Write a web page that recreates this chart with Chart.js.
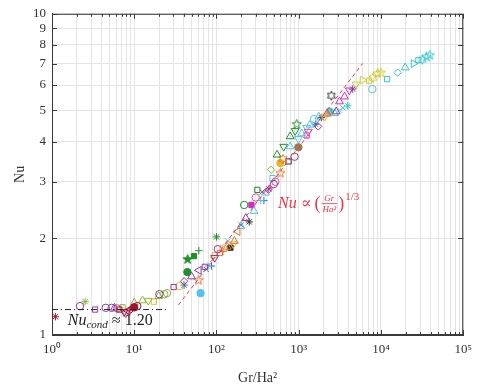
<!DOCTYPE html>
<html>
<head>
<meta charset="utf-8">
<script src="https://cdn.jsdelivr.net/npm/chart.js@4"></script>
<style>
  html, body { margin: 0; padding: 0; background: #fff; }
  #wrap { width: 479px; height: 387px; }
</style>
</head>
<body>
<div id="wrap"><canvas id="nuChart" width="479" height="387"></canvas></div>
<script>
// marker codes: o s ^ v < > d * + x p h  (upper case = filled)
const purpleGr = [2.19, 3.34, 4.5, 5.3, 5.75, 20.2, 30.1, 40.4, 49.7, 61, 72, 95, 104, 227, 360, 433, 497, 890, 1722, 2856, 4530];
const purpleNu = [1.23, 1.20, 1.215, 1.215, 1.215, 1.34, 1.41, 1.47, 1.52, 1.59, 1.63, 1.74, 1.85, 2.31, 2.79, 2.85, 2.95, 3.59, 4.46, 4.96, 5.83];
const purpleMk = ['o','s','o','o','^','o','s','d','^','<','s','v','o','^','x','*','o','o','d','^','*'];

const darkredGr = [1.1, 6.59, 7.55, 8.3, 9.1, 10, 10.9];
const darkredNu = [1.14, 1.20, 1.18, 1.19, 1.20, 1.22, 1.23];
const darkredMk = ['*','s','v','<','d','O','o'];

const pinkGr = [6.2, 7.9, 9.5, 300, 430, 520, 1300, 2200];
const pinkNu = [1.21, 1.17, 1.21, 2.68, 2.83, 3.0, 4.3, 4.88];
const pinkMk = ['o','v','^','o','d','o','v','^'];

const lgreenGr = [2.53, 7.2, 10, 12.6, 14.8, 19.8, 23.2, 25, 462];
const lgreenNu = [1.27, 1.22, 1.26, 1.28, 1.28, 1.32, 1.34, 1.35, 3.27];
const lgreenMk = ['*','s','^','^','v','^','o','o','d'];

const dgreenGr = [44.3, 44.6, 53.2, 61, 100, 217, 314, 545, 656, 787, 904, 947];
const dgreenNu = [1.57, 1.72, 1.76, 1.83, 2.02, 2.54, 2.83, 3.64, 3.86, 4.15, 4.32, 4.53];
const dgreenMk = ['O','P','S','+','*','o','s','^','v','^','v','p'];

const orangeGr = [60.5, 90, 110, 120, 135, 165, 181, 598, 640];
const orangeNu = [1.48, 1.72, 1.80, 1.82, 1.88, 1.96, 2.10, 3.19, 3.53];
const orangeMk = ['p','x','s','+','^','^','<','p','h'];

const yellowGr = [17.3, 35.5, 95, 121, 160, 598, 2070, 2300];
const yellowNu = [1.27, 1.42, 1.77, 1.86, 1.92, 3.43, 4.79, 4.9];
const yellowMk = ['s','o','s','o','v','O','v','^'];

const oliveGr = [4960, 5960, 7160, 8010, 9060, 10000];
const oliveNu = [6.03, 6.22, 6.19, 6.32, 6.51, 6.55];
const oliveMk = ['v','>','s','h','p','p'];

const lblueGr = [64, 79, 137, 198, 286, 345, 394, 480, 787, 991, 1087, 1250, 1368, 1528, 1750, 2730, 3130, 7850];
const lblueNu = [1.35, 1.64, 1.96, 2.18, 2.43, 2.62, 2.77, 3.08, 3.86, 4.08, 4.24, 4.42, 4.51, 4.70, 4.78, 4.90, 5.01, 5.83];
const lblueMk = ['O','+','x','^','^','+','^','s','^','v','^','v','^','o','^','^','x','o'];

const blueGr = [40.4, 75, 87, 200, 377, 1598];
const blueNu = [1.43, 1.60, 1.64, 2.2, 2.62, 4.53];
const blueMk = ['*','x','+','x','+','*'];

const tealGr = [2377, 3435, 3940, 11890, 15960, 19700, 24850, 28500, 31800, 35800, 39300];
const tealNu = [4.96, 5.10, 5.17, 6.26, 6.56, 6.80, 7.0, 7.17, 7.2, 7.34, 7.43];
const tealMk = ['O','x','*','s','d','^','>','s','h','p','p'];

const magentaGr = [266, 1248, 3130, 3600, 4120];
const magentaNu = [2.54, 4.18, 5.33, 5.52, 5.78];
const magentaMk = ['S','s','^','^','v'];

const blackGr = [148, 250, 752, 1880, 2490];
const blackNu = [1.87, 2.25, 3.47, 4.75, 5.56];
const blackMk = ['S','*','s','*','h'];

const brownGr = [991];
const brownNu = [3.84];
const brownMk = ['O'];

// reference lines
const condGr = [1, 25];
const condNu = [1.2, 1.2];
const fitGr = [34.5, 5960];
const fitNu = [1.24, 7.0];

const xTickVals = [];
for (let e = 0; e < 5; e++) for (let k = 1; k <= 9; k++) xTickVals.push(k * Math.pow(10, e));
xTickVals.push(1e5);
const yTickVals = [1, 2, 3, 4, 5, 6, 7, 8, 9, 10];
const sup = ['\u2070', '\u00b9', '\u00b2', '\u00b3', '\u2074', '\u2075'];

const R = 3.7;

function starImg(color, filled, n, r) {
    const c = document.createElement('canvas');
    const s = Math.ceil(r * 2 + 3);
    c.width = s; c.height = s;
    const g = c.getContext('2d');
    const inner = n === 5 ? r * 0.42 : r * 0.55;
    g.beginPath();
    for (let i = 0; i < n * 2; i++) {
        const a = -Math.PI / 2 + i * Math.PI / n;
        const rr = i % 2 ? inner : r;
        const px = s / 2 + rr * Math.cos(a), py = s / 2 + rr * Math.sin(a);
        i ? g.lineTo(px, py) : g.moveTo(px, py);
    }
    g.closePath();
    if (filled) { g.fillStyle = color; g.fill(); }
    g.strokeStyle = color; g.lineWidth = 1; g.stroke();
    return c;
}

function styleOf(code, color) {
    const m = code.toLowerCase();
    const filled = code !== m;
    if (m === 'p') return starImg(color, filled, 5, R + 1.2);
    if (m === 'h') return starImg(color, filled, 6, R + 0.8);
    return {o:'circle', s:'rect', '^':'triangle', v:'triangle', '<':'triangle', '>':'triangle',
            d:'rectRot', '*':'star', '+':'cross', x:'crossRot'}[m];
}
function rotOf(code) {
    return {v:180, '<':-90, '>':90}[code.toLowerCase()] || 0;
}

function series(gr, nu, mk, color) {
    return {
        type: 'scatter',
        data: gr.map((g, i) => ({x: g, y: nu[i]})),
        borderColor: color,
        pointBorderColor: color,
        pointBackgroundColor: mk.map(c => c !== c.toLowerCase() ? color : 'rgba(0,0,0,0)'),
        pointStyle: mk.map(c => styleOf(c, color)),
        pointRotation: mk.map(rotOf),
        pointRadius: mk.map(c => '^v<>'.includes(c.toLowerCase()) ? R + 0.8 : R),
        pointBorderWidth: 1,
        order: 1
    };
}

function refLine(gr, nu, color, dash) {
    return {
        type: 'line',
        data: gr.map((g, i) => ({x: g, y: nu[i]})),
        borderColor: color,
        borderWidth: 1,
        borderDash: dash,
        pointRadius: 0,
        fill: false,
        order: 0
    };
}

const datasets = [
    series(purpleGr, purpleNu, purpleMk, '#8a3f9a'),
    series(darkredGr, darkredNu, darkredMk, '#a2142f'),
    series(pinkGr, pinkNu, pinkMk, '#e0508a'),
    series(lgreenGr, lgreenNu, lgreenMk, '#86b93a'),
    series(dgreenGr, dgreenNu, dgreenMk, '#1f8f2a'),
    series(orangeGr, orangeNu, orangeMk, '#e8742a'),
    series(yellowGr, yellowNu, yellowMk, '#e8b52a'),
    series(oliveGr, oliveNu, oliveMk, '#cccc33'),
    series(lblueGr, lblueNu, lblueMk, '#52c3ee'),
    series(blueGr, blueNu, blueMk, '#2a6fd0'),
    series(tealGr, tealNu, tealMk, '#34c6c8'),
    series(magentaGr, magentaNu, magentaMk, '#d42ad0'),
    series(blackGr, blackNu, blackMk, '#333333'),
    series(brownGr, brownNu, brownMk, '#9c7a50'),
    refLine(condGr, condNu, '#222222', [6, 3, 1, 3]),
    refLine(fitGr, fitNu, '#f03c50', [4, 3])
];

const boxPlugin = {
    id: 'box',
    beforeDatasetsDraw(chart) {
        const {ctx, chartArea: a, scales} = chart;
        ctx.save();
        ctx.strokeStyle = '#3a3a3a';
        ctx.lineWidth = 1;
        ctx.strokeRect(a.left + 0.5, a.top + 0.5, a.right - a.left - 1, a.bottom - a.top - 1);
        ctx.beginPath();
        xTickVals.forEach(v => {
            const px = Math.round(scales.x.getPixelForValue(v)) + 0.5;
            const len = Number.isInteger(Math.log10(v)) ? 5 : 3;
            ctx.moveTo(px, a.bottom); ctx.lineTo(px, a.bottom - len);
            ctx.moveTo(px, a.top); ctx.lineTo(px, a.top + len);
        });
        yTickVals.forEach(v => {
            const py = Math.round(scales.y.getPixelForValue(v)) + 0.5;
            ctx.moveTo(a.left, py); ctx.lineTo(a.left + 5, py);
            ctx.moveTo(a.right, py); ctx.lineTo(a.right - 5, py);
        });
        ctx.stroke();
        ctx.restore();
    },
    afterDatasetsDraw(chart) {
        const {ctx, scales} = chart;
        const serif = '"Liberation Serif", "DejaVu Serif", serif';
        ctx.save();
        ctx.textBaseline = 'alphabetic';
        ctx.textAlign = 'left';

        // Nu ∝ (Gr/Ha²)^(1/3)
        let x = scales.x.getPixelForValue(560);
        const y = scales.y.getPixelForValue(2.48);
        ctx.fillStyle = '#ec3545';
        ctx.font = 'italic 16px ' + serif;
        ctx.fillText('Nu', x, y); x += ctx.measureText('Nu').width + 4;
        ctx.font = '16px ' + serif;
        ctx.fillText('\u221d', x, y); x += ctx.measureText('\u221d').width + 3;
        ctx.font = '18px ' + serif;
        ctx.fillText('(', x, y + 1); x += ctx.measureText('(').width + 1;
        ctx.font = 'italic 9px ' + serif;
        const fw = Math.max(ctx.measureText('Ha\u00b2').width, ctx.measureText('Gr').width) + 2;
        ctx.textAlign = 'center';
        ctx.fillText('Gr', x + fw / 2, y - 7);
        ctx.fillText('Ha\u00b2', x + fw / 2, y + 4);
        ctx.fillRect(x, y - 5, fw, 0.8);
        ctx.textAlign = 'left';
        x += fw + 1;
        ctx.font = '18px ' + serif;
        ctx.fillText(')', x, y + 1); x += ctx.measureText(')').width + 1;
        ctx.font = '11px ' + serif;
        ctx.fillText('1/3', x, y - 8);

        // Nu_cond ≈ 1.20
        x = scales.x.getPixelForValue(1.556);
        const y2 = scales.y.getPixelForValue(1.075);
        ctx.fillStyle = '#1e1e1e';
        ctx.font = 'italic 16px ' + serif;
        ctx.fillText('Nu', x, y2); x += ctx.measureText('Nu').width;
        ctx.font = 'italic 11px ' + serif;
        ctx.fillText('cond', x, y2 + 3); x += ctx.measureText('cond').width + 4;
        ctx.font = '16px ' + serif;
        ctx.fillText('\u2248 1.20', x, y2);
        ctx.restore();
    }
};

const tickFont = {family: '"Liberation Serif", serif', size: 13};
const gridColor = '#e4e4e4';

new Chart(document.getElementById('nuChart').getContext('2d'), {
    type: 'scatter',
    data: {datasets},
    options: {
        responsive: false,
        animation: false,
        layout: {padding: {left: 0, right: 10, top: 12, bottom: 0}},
        plugins: {legend: {display: false}, tooltip: {enabled: false}},
        scales: {
            x: {
                type: 'logarithmic',
                min: 1, max: 1e5,
                afterBuildTicks: s => { s.ticks = xTickVals.map(v => ({value: v})); },
                afterFit: s => { s.height = 52; },
                grid: {color: gridColor, drawTicks: false},
                border: {color: '#3a3a3a'},
                ticks: {
                    autoSkip: false, maxRotation: 0, minRotation: 0, padding: 7,
                    color: '#333', font: tickFont,
                    callback: v => {
                        const e = Math.log10(v);
                        return Math.abs(e - Math.round(e)) < 1e-9 ? '10' + sup[Math.round(e)] : '';
                    }
                },
                title: {display: true, text: 'Gr/Ha\u00b2', color: '#333',
                        font: {family: '"Liberation Serif", serif', size: 14}, padding: {top: 0, bottom: 0}}
            },
            y: {
                type: 'logarithmic',
                min: 1, max: 10,
                afterBuildTicks: s => { s.ticks = yTickVals.map(v => ({value: v})); },
                afterFit: s => { s.width = 52; },
                grid: {color: gridColor, drawTicks: false},
                border: {color: '#3a3a3a'},
                ticks: {autoSkip: false, padding: 6, color: '#333', font: tickFont,
                        callback: v => String(v)},
                title: {display: true, text: 'Nu', color: '#333',
                        font: {family: '"Liberation Serif", serif', size: 14}, padding: {top: 12, bottom: 0}}
            }
        }
    },
    plugins: [boxPlugin]
});
</script>
</body>
</html>
